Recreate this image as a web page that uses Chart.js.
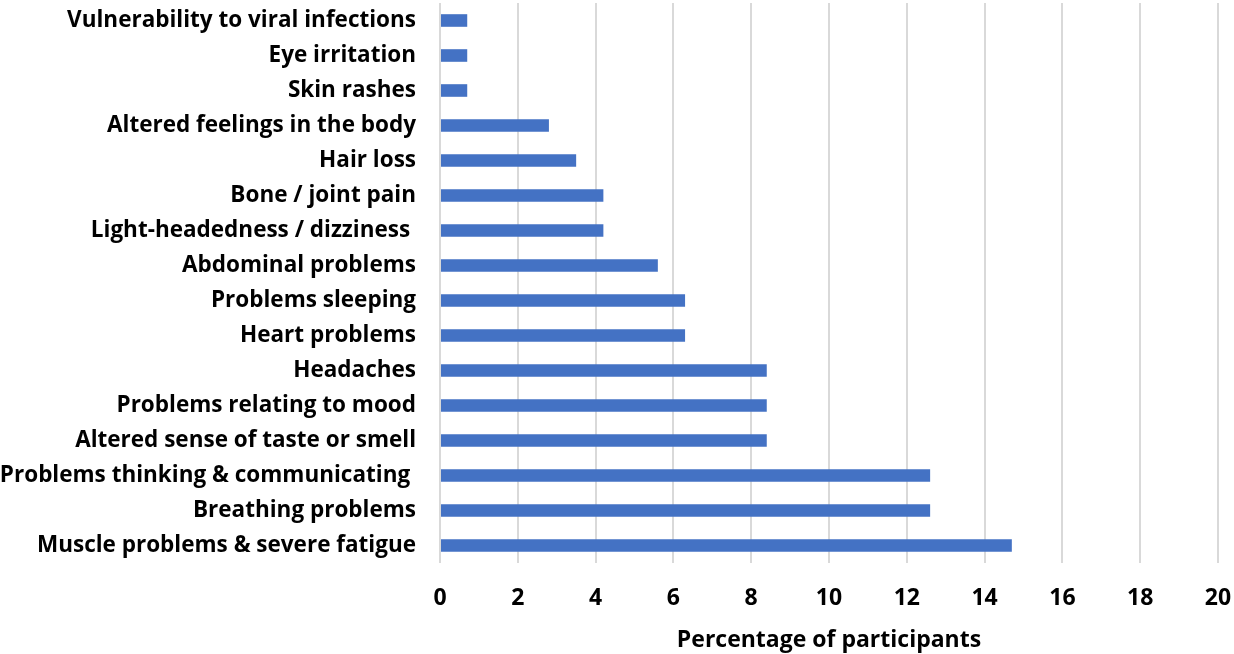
<!DOCTYPE html>
<html>
<head>
<meta charset="utf-8">
<script src="https://cdn.jsdelivr.net/npm/chart.js@4"></script>
<style>
html,body{margin:0;padding:0;background:#fff;}
#wrap{width:1234px;height:654px;position:relative;}
</style>
</head>
<body>
<div id="wrap"><canvas id="c" width="1234" height="654"></canvas></div>
<script>
const categories = [
  "Vulnerability to viral infections",
  "Eye irritation",
  "Skin rashes",
  "Altered feelings in the body",
  "Hair loss",
  "Bone / joint pain",
  "Light-headedness / dizziness ",
  "Abdominal problems",
  "Problems sleeping",
  "Heart problems",
  "Headaches",
  "Problems relating to mood",
  "Altered sense of taste or smell",
  "Problems thinking & communicating ",
  "Breathing problems",
  "Muscle problems & severe fatigue"
];
const percentages = [0.7, 0.7, 0.7, 2.8, 3.5, 4.2, 4.2, 5.6, 6.3, 6.3, 8.4, 8.4, 8.4, 12.6, 12.6, 14.7];
const xTicks = [0, 2, 4, 6, 8, 10, 12, 14, 16, 18, 20];
const xTitle = "Percentage of participants";

const FONT = "'Open Sans', Lato, 'Liberation Sans', sans-serif";

function zeroPad(s) { s.paddingTop = 0; s.paddingBottom = 0; s.paddingLeft = 0; s.paddingRight = 0; }

new Chart(document.getElementById('c'), {
  type: 'bar',
  data: {
    labels: categories,
    datasets: [{
      data: percentages,
      backgroundColor: '#4472C4',
      borderWidth: 0,
      categoryPercentage: 1,
      barPercentage: 0.36
    }]
  },
  options: {
    indexAxis: 'y',
    responsive: false,
    animation: false,
    devicePixelRatio: 1,
    layout: { padding: { top: 3, right: 16, bottom: 0, left: 0 } },
    plugins: { legend: { display: false }, tooltip: { enabled: false } },
    scales: {
      x: {
        min: 0, max: 20,
        afterBuildTicks: (s) => { s.ticks = xTicks.map(v => ({ value: v })); },
        afterFit: (s) => { s.height = 91; zeroPad(s); },
        border: { display: false },
        grid: { color: '#d9d9d9', lineWidth: 2, drawTicks: false },
        ticks: {
          padding: 22,
          color: '#000',
          font: { family: FONT, size: 23, weight: 'bold' }
        },
        title: {
          display: true,
          text: xTitle,
          color: '#000',
          padding: { top: 1, bottom: 0 },
          font: { family: FONT, size: 23, weight: 'bold' }
        }
      },
      y: {
        afterFit: (s) => { s.width = 440; zeroPad(s); },
        border: { display: false },
        grid: { display: false, drawTicks: false },
        ticks: {
          padding: 24,
          color: '#000',
          autoSkip: false,
          font: { family: FONT, size: 22.5, weight: 'bold' }
        }
      }
    }
  }
});
</script>
</body>
</html>
